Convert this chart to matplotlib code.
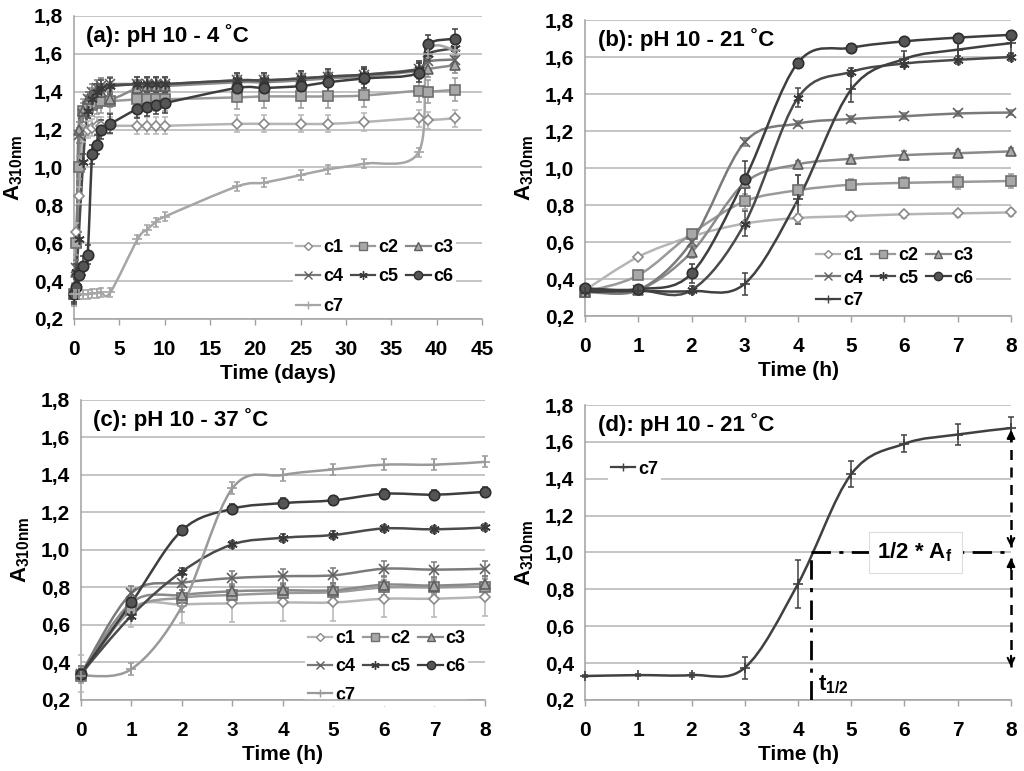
import numpy as np
import matplotlib
matplotlib.use('Agg')
import matplotlib.pyplot as plt
from matplotlib.path import Path
from matplotlib.patches import PathPatch
from matplotlib.lines import Line2D
from matplotlib.ticker import FuncFormatter

plt.rcParams['font.family'] = ['Liberation Sans', 'DejaVu Sans']
plt.rcParams['font.weight'] = 'bold'
plt.rcParams['axes.labelweight'] = 'bold'
plt.rcParams['mathtext.fontset'] = 'custom'
plt.rcParams['mathtext.rm'] = 'Liberation Sans:bold'
plt.rcParams['mathtext.bf'] = 'Liberation Sans:bold'
plt.rcParams['mathtext.it'] = 'Liberation Sans:bold'

# (a) pH 10 - 4 C, time in days
days_a = [0, 0.25, 0.5, 1, 1.5, 2, 2.5, 3, 4, 7, 8, 9, 10, 18, 21, 25, 28, 32, 38, 39, 42]
a_c1 = [0.33, 0.66, 0.85, 1.18, 1.20, 1.21, 1.22, 1.22, 1.22, 1.22, 1.22, 1.22, 1.22, 1.23, 1.23, 1.23, 1.23, 1.24, 1.26, 1.25, 1.26]
a_c2 = [0.33, 0.60, 1.00, 1.30, 1.32, 1.33, 1.34, 1.35, 1.35, 1.36, 1.36, 1.36, 1.36, 1.37, 1.375, 1.375, 1.375, 1.38, 1.405, 1.40, 1.41]
a_c3 = [0.33, 0.45, 1.20, 1.30, 1.36, 1.38, 1.40, 1.40, 1.36, 1.42, 1.43, 1.43, 1.43, 1.45, 1.45, 1.46, 1.47, 1.48, 1.51, 1.52, 1.54]
a_c4 = [0.33, 0.47, 1.17, 1.28, 1.36, 1.40, 1.42, 1.43, 1.44, 1.44, 1.44, 1.44, 1.44, 1.46, 1.46, 1.47, 1.48, 1.49, 1.52, 1.56, 1.57]
a_c5 = [0.33, 0.45, 0.62, 1.03, 1.30, 1.36, 1.40, 1.42, 1.43, 1.44, 1.44, 1.44, 1.44, 1.46, 1.46, 1.47, 1.48, 1.49, 1.52, 1.60, 1.63]
a_c6 = [0.33, 0.37, 0.43, 0.48, 0.54, 1.07, 1.12, 1.20, 1.23, 1.31, 1.32, 1.33, 1.34, 1.42, 1.42, 1.43, 1.45, 1.47, 1.50, 1.65, 1.68]
a_c7 = [0.33, 0.33, 0.33, 0.33, 0.33, 0.335, 0.335, 0.34, 0.34, 0.62, 0.67, 0.71, 0.74, 0.90, 0.92, 0.96, 0.99, 1.02, 1.08, 1.60, 1.62]
a_err = [0.045, 0.06, 0.04, 0.04, 0.04, 0.05, 0.025]

# (b) pH 10 - 21 C, time in hours
hours = [0, 1, 2, 3, 4, 5, 6, 7, 8]
b_c1 = [0.34, 0.52, 0.63, 0.70, 0.73, 0.74, 0.75, 0.755, 0.76]
b_c2 = [0.33, 0.42, 0.645, 0.82, 0.88, 0.91, 0.92, 0.925, 0.93]
b_c3 = [0.33, 0.34, 0.545, 0.92, 1.02, 1.05, 1.07, 1.08, 1.09]
b_c4 = [0.34, 0.34, 0.60, 1.14, 1.24, 1.265, 1.28, 1.295, 1.30]
b_c5 = [0.34, 0.34, 0.34, 0.70, 1.38, 1.52, 1.565, 1.585, 1.60]
b_c6 = [0.35, 0.345, 0.43, 0.94, 1.57, 1.65, 1.685, 1.705, 1.72]
b_c7 = [0.33, 0.335, 0.335, 0.375, 0.83, 1.425, 1.59, 1.64, 1.675]
b_e1 = [0.01, 0.01, 0.01, 0.01, 0.02, 0.02, 0.02, 0.02, 0.02]
b_e2 = [0.01, 0.02, 0.02, 0.04, 0.08, 0.03, 0.03, 0.04, 0.04]
b_e3 = [0.01, 0.01, 0.03, 0.03, 0.02, 0.02, 0.02, 0.02, 0.02]
b_e4 = [0.01, 0.01, 0.02, 0.02, 0.015, 0.015, 0.015, 0.015, 0.015]
b_e5 = [0.01, 0.01, 0.02, 0.07, 0.05, 0.02, 0.02, 0.02, 0.02]
b_e6 = [0.01, 0.01, 0.05, 0.10, 0.02, 0.02, 0.02, 0.02, 0.02]
b_e7 = [0.005, 0.005, 0.01, 0.06, 0.13, 0.07, 0.045, 0.055, 0.06]

# (c) pH 10 - 37 C
c_c1 = [0.34, 0.69, 0.71, 0.715, 0.72, 0.72, 0.74, 0.74, 0.75]
c_c2 = [0.33, 0.68, 0.745, 0.76, 0.77, 0.775, 0.80, 0.80, 0.805]
c_c3 = [0.34, 0.72, 0.76, 0.78, 0.785, 0.785, 0.815, 0.81, 0.82]
c_c4 = [0.34, 0.77, 0.825, 0.85, 0.86, 0.865, 0.90, 0.895, 0.90]
c_c5 = [0.34, 0.65, 0.885, 1.03, 1.065, 1.08, 1.115, 1.11, 1.12]
c_c6 = [0.34, 0.72, 1.105, 1.22, 1.25, 1.265, 1.30, 1.295, 1.31]
c_c7 = [0.33, 0.365, 0.70, 1.33, 1.40, 1.43, 1.455, 1.455, 1.47]
c_err = [0.1, 0.04, 0.04, 0.04, 0.02, 0.025, 0.03]

# (d) c7 at 21 C with t1/2 construction
t_half = 4.25
half_af = 1.0

names = ['c1', 'c2', 'c3', 'c4', 'c5', 'c6', 'c7']
# legend filled row by row: c1 c2 c3 / c4 c5 c6 / c7
leg_order = [0, 3, 6, 1, 4, 2, 5]
styles = {
    'c1': dict(marker='D', ms=5, mfc='white', mec='#8a8a8a', lc='#b5b5b5'),
    'c2': dict(marker='s', ms=6.5, mfc='#a8a8a8', mec='#6e6e6e', lc='#9a9a9a'),
    'c3': dict(marker='^', ms=7, mfc='#a8a8a8', mec='#5e5e5e', lc='#8a8a8a'),
    'c4': dict(marker='x', ms=6.5, mfc='#606060', mec='#606060', lc='#7a7a7a'),
    'c5': dict(marker=(6, 2, 0), ms=7.5, mfc='#3a3a3a', mec='#3a3a3a', lc='#4a4a4a'),
    'c6': dict(marker='o', ms=7.5, mfc='#555555', mec='#2e2e2e', lc='#3e3e3e'),
    'c7': dict(marker='+', ms=7, mfc='#404040', mec='#404040', lc='#404040'),
}


def smooth_path(x, y, t=1 / 6):
    # Excel-like smoothed line: Catmull-Rom turned into cubic Bezier segments
    x = np.asarray(x, float)
    y = np.asarray(y, float)
    n = len(x)
    verts = [(x[0], y[0])]
    codes = [Path.MOVETO]
    for i in range(n - 1):
        xp, yp = (x[i - 1], y[i - 1]) if i > 0 else (x[i], y[i])
        xn, yn = (x[i + 2], y[i + 2]) if i + 2 < n else (x[i + 1], y[i + 1])
        verts.append((x[i] + t * (x[i + 1] - xp), y[i] + t * (y[i + 1] - yp)))
        verts.append((x[i + 1] - t * (xn - x[i]), y[i + 1] - t * (yn - y[i])))
        verts.append((x[i + 1], y[i + 1]))
        codes += [Path.CURVE4] * 3
    return Path(verts, codes)


def draw_series(ax, x, y, err, name, lc=None, z=3):
    st = styles[name]
    col = lc or st['lc']
    ax.add_patch(PathPatch(smooth_path(x, y), fill=False, edgecolor=col, lw=1.8,
                           zorder=z, capstyle='round', joinstyle='round'))
    mec = st['mec'] if name != 'c7' else col
    ax.errorbar(x, y, yerr=err, fmt='none', ecolor=col, elinewidth=1.1,
                capsize=2.5, capthick=1.1, zorder=z + 0.1, clip_on=False)
    ax.plot(x, y, linestyle='none', marker=st['marker'], ms=st['ms'],
            mfc=st['mfc'], mec=mec, mew=1.2, zorder=z + 0.2, clip_on=False)
    return Line2D([], [], color=col, lw=1.6, marker=st['marker'], ms=st['ms'] * 0.8,
                  mfc=st['mfc'], mec=mec, mew=1.0)


def style_axes(ax, xmax, xstep, xlabel, title):
    ax.set_xlim(0, xmax)
    ax.set_ylim(0.2, 1.8)
    ax.set_xticks(np.arange(0, xmax + 0.01, xstep))
    ax.set_yticks(np.arange(0.2, 1.81, 0.2))
    ax.yaxis.set_major_formatter(FuncFormatter(lambda v, p: f'{v:.1f}'.replace('.', ',')))
    ax.grid(axis='y', color='#b4b4b4', lw=1.1)
    ax.set_axisbelow(True)
    for s in ['top', 'right']:
        ax.spines[s].set_visible(False)
    for s in ['left', 'bottom']:
        ax.spines[s].set_color('#a0a0a0')
        ax.spines[s].set_linewidth(1.1)
    ax.tick_params(axis='y', length=0, pad=8, labelsize=15)
    ax.tick_params(axis='x', length=4, width=1, color='#a0a0a0', pad=11, labelsize=15,
                   direction='out')
    ax.set_xlabel(xlabel, fontsize=15, fontweight='bold', labelpad=4)
    ax.set_ylabel(r'$\mathbf{A_{310nm}}$', fontsize=16, labelpad=6)
    ax.text(0.03, 0.935, title, transform=ax.transAxes, fontsize=16,
            fontweight='bold', va='center', ha='left', zorder=10)


def add_legend(ax, handles, labels, center, ncol, spacing):
    leg = ax.legend(handles, labels, loc='center', bbox_to_anchor=center, ncol=ncol,
                    fontsize=13, frameon=True, framealpha=1, facecolor='white',
                    edgecolor='none', handlelength=1.35, handletextpad=0.15,
                    columnspacing=0.45, labelspacing=spacing, borderpad=0.15,
                    fancybox=False)
    # above the grid, below the spines and data
    leg.set_zorder(2.2)
    return leg


def row_legend(ax, handles, center, spacing):
    hs = [handles[i] for i in leg_order]
    labs = [names[i] for i in leg_order]
    return add_legend(ax, hs, labs, center, 3, spacing)


fig = plt.figure(figsize=(10.24, 7.71), dpi=100)
ax_a = fig.add_axes([0.0723, 0.5863, 0.3984, 0.3930])
ax_b = fig.add_axes([0.5713, 0.5901, 0.4160, 0.3839])
ax_c = fig.add_axes([0.0791, 0.0921, 0.3945, 0.3891])
ax_d = fig.add_axes([0.5713, 0.0921, 0.4160, 0.3826])

# panel a
a_vals = [a_c1, a_c2, a_c3, a_c4, a_c5, a_c6, a_c7]
hs = []
for i, nm in enumerate(names):
    lc = '#a6a6a6' if nm == 'c7' else None
    hs.append(draw_series(ax_a, days_a, a_vals[i], a_err[i], nm, lc=lc, z=3 + i * 0.01))
style_axes(ax_a, 45, 5, 'Time (days)', '(a): pH 10 - 4 ˚C')
row_legend(ax_a, hs, (0.7365, 0.1386), 0.7)

# panel b
b_vals = [b_c1, b_c2, b_c3, b_c4, b_c5, b_c6, b_c7]
b_errs = [b_e1, b_e2, b_e3, b_e4, b_e5, b_e6, b_e7]
hs = []
for i, nm in enumerate(names):
    hs.append(draw_series(ax_b, hours, b_vals[i], b_errs[i], nm, z=3 + i * 0.01))
style_axes(ax_b, 8, 1, 'Time (h)', '(b): pH 10 - 21 ˚C')
row_legend(ax_b, hs, (0.7265, 0.128), 0.3)

# panel c
c_vals = [c_c1, c_c2, c_c3, c_c4, c_c5, c_c6, c_c7]
hs = []
for i, nm in enumerate(names):
    lc = '#9a9a9a' if nm == 'c7' else None
    hs.append(draw_series(ax_c, hours, c_vals[i], c_err[i], nm, lc=lc, z=3 + i * 0.01))
style_axes(ax_c, 8, 1, 'Time (h)', '(c): pH 10 - 37 ˚C')
row_legend(ax_c, hs, (0.757, 0.11), 0.62)

# panel d
h7 = draw_series(ax_d, hours, b_c7, b_e7, 'c7')
style_axes(ax_d, 8, 1, 'Time (h)', '(d): pH 10 - 21 ˚C')
add_legend(ax_d, [h7], ['c7'], (0.116, 0.783), 1, 0.3)

dashdot = (0, (7, 3, 1.5, 3))
ax_d.plot([t_half, t_half], [0.2, half_af], color='black', lw=2, linestyle=dashdot, zorder=6)
ax_d.plot([t_half, 8], [half_af, half_af], color='black', lw=2, linestyle=dashdot, zorder=6)
ax_d.text(6.2, half_af, r'1/2 * A$_\mathbf{f}$', fontsize=16, ha='center', va='center',
          zorder=9, bbox=dict(boxstyle='square,pad=0.4', facecolor='white',
                              edgecolor='#dcdcdc', lw=0.8))
ax_d.text(t_half + 0.12, 0.285, r'$\mathbf{t_{1/2}}$', fontsize=16, ha='left',
          va='center', zorder=9)

top_af = b_c7[-1]
for y0, y1 in [(half_af + 0.03, top_af - 0.01), (0.38, half_af - 0.03)]:
    ax_d.plot([8, 8], [y0, y1], color='black', lw=1.8, linestyle=(0, (4, 3)),
              zorder=7, clip_on=False)
    ax_d.annotate('', xy=(8, y1), xytext=(8, y1 - 0.06),
                  arrowprops=dict(arrowstyle='-|>', color='black', lw=1.5,
                                  mutation_scale=12, shrinkA=0, shrinkB=0),
                  annotation_clip=False, zorder=7)
    ax_d.annotate('', xy=(8, y0), xytext=(8, y0 + 0.06),
                  arrowprops=dict(arrowstyle='->', color='black', lw=1.5,
                                  mutation_scale=12, shrinkA=0, shrinkB=0),
                  annotation_clip=False, zorder=7)

fig.savefig('out.png', dpi=100)
